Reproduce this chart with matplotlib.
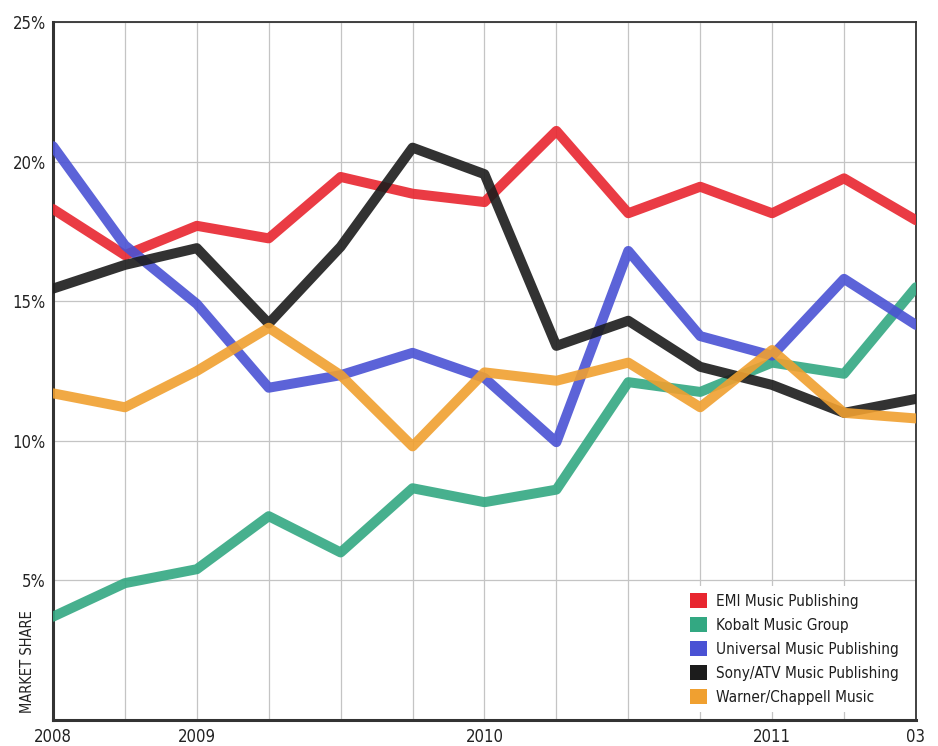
import matplotlib
matplotlib.use("Agg")
import matplotlib.pyplot as plt
from matplotlib.patches import Patch

plt.rcParams["font.family"] = ["Liberation Sans Narrow", "DejaVu Sans"]
plt.rcParams["font.stretch"] = "condensed"

quarters = list(range(13))
tick_pos = [0, 2, 6, 10, 12]
tick_labels = ["2008", "2009", "2010", "2011", "03"]

emi = [18.3, 16.65, 17.7, 17.25, 19.45, 18.85, 18.55, 21.1, 18.15, 19.1, 18.15, 19.4, 17.9]
kobalt = [3.7, 4.9, 5.4, 7.3, 6.0, 8.3, 7.8, 8.25, 12.1, 11.75, 12.8, 12.4, 15.5]
universal = [20.55, 17.0, 14.9, 11.9, 12.35, 13.15, 12.25, 9.95, 16.8, 13.75, 13.05, 15.8, 14.15]
sony = [15.45, 16.3, 16.9, 14.2, 16.95, 20.5, 19.55, 13.4, 14.3, 12.65, 12.0, 11.0, 11.5]
warner = [11.7, 11.2, 12.5, 14.05, 12.35, 9.8, 12.45, 12.15, 12.8, 11.2, 13.25, 11.0, 10.8]

names = ["EMI Music Publishing", "Kobalt Music Group", "Universal Music Publishing",
         "Sony/ATV Music Publishing", "Warner/Chappell Music"]
colors = ["#e8262f", "#33a882", "#4a52d4", "#1c1c1c", "#f0a030"]
series = [emi, kobalt, universal, sony, warner]

fig = plt.figure(figsize=(9.38, 7.46), dpi=100)
ax = fig.add_axes([0.0565, 0.0349, 0.92, 0.9356])

for vals, c in zip(series, colors):
    ax.plot(quarters, vals, color=c, lw=7.2, alpha=0.9,
            solid_capstyle="round", solid_joinstyle="round", zorder=3)

ax.set_xlim(0, 12)
ax.set_ylim(0, 25)
ax.set_xticks(quarters)
ax.set_xticklabels(["" for _ in quarters])
ax.set_yticks([0, 5, 10, 15, 20, 25])
ax.set_yticklabels(["", "5%", "10%", "15%", "20%", "25%"])
ax.grid(True, color="#c4c4c4", lw=0.9)
ax.tick_params(length=0, labelsize=12, colors="#222222", pad=5)

# year labels sit only under some of the quarter gridlines
for p, lab in zip(tick_pos, tick_labels):
    ax.text(p, -0.3, lab, ha="center", va="top", fontsize=12, color="#222222")

for s in ["left", "bottom"]:
    ax.spines[s].set_linewidth(2.2)
    ax.spines[s].set_color("#333333")
for s in ["top", "right"]:
    ax.spines[s].set_linewidth(1.3)
    ax.spines[s].set_color("#333333")

ax.text(-0.03, 0.01, "MARKET SHARE", transform=ax.transAxes, rotation=90,
        ha="center", va="bottom", fontsize=10.5, color="#222222")

handles = [Patch(facecolor=c, edgecolor="none") for c in colors]
leg = ax.legend(handles, names, loc="lower right", bbox_to_anchor=(0.998, 0.0),
                frameon=True, fontsize=11, handlelength=1.1, handleheight=1.1,
                handletextpad=0.6, labelspacing=0.55, borderpad=0.5)
leg.get_frame().set_facecolor("white")
leg.get_frame().set_edgecolor("none")
leg.get_frame().set_alpha(1.0)
for t in leg.get_texts():
    t.set_color("#1e1e1e")

fig.savefig("out.png", dpi=100)
plt.close(fig)
